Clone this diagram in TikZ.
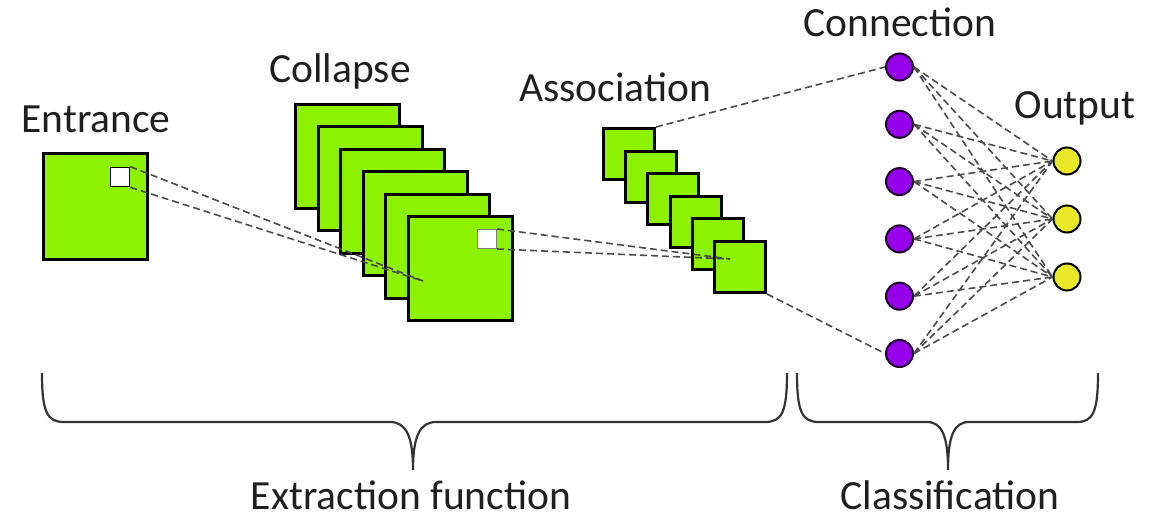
\documentclass[tikz,border=0pt]{standalone}
\usepackage{fontspec}
\setmainfont{Carlito}
\usetikzlibrary{positioning}

\definecolor{mapgreen}{RGB}{140,242,0}
\definecolor{neuron}{RGB}{150,0,235}
\definecolor{outyellow}{RGB}{232,232,40}
\definecolor{wiregray}{RGB}{75,75,75}

\begin{document}
\begin{tikzpicture}[x=1pt, y=-1pt,
    fmap/.style={rectangle, draw=black, line width=3pt, fill=mapgreen, minimum size=104pt, inner sep=0pt},
    smallmap/.style={fmap, minimum size=51pt},
    patch/.style={rectangle, draw=black, line width=1.6pt, fill=white, minimum size=19pt, inner sep=0pt},
    neuronnode/.style={circle, draw=black!80!neuron, line width=2pt, fill=neuron, minimum size=27pt, inner sep=0pt},
    outnode/.style={neuronnode, draw=black, fill=outyellow},
    lbl/.style={font=\fontsize{41.5}{48}\selectfont, text=black!88, anchor=base, inner sep=0pt},
    wire/.style={draw=wiregray, line width=1.6pt, dash pattern=on 7pt off 4pt},
    bracket/.style={draw=black!80, line width=2.2pt}
]
\useasboundingbox (0,0) rectangle (1168,519);

% Feature maps
\node[fmap, minimum height=106pt] (entr) at (95.5,206.5) {};
\node[patch] (win1) at (120,177) {};
\foreach \i in {1,...,6}
    \node[fmap] (coll\i) at ({347.5+22.6*(\i-1)}, {156.5+22.4*(\i-1)}) {};
\node[patch, draw=gray, line width=1pt] (win2) at (487,239) {};
\foreach \i in {1,...,6}
    \node[smallmap] (assoc\i) at ({629+22.2*(\i-1)}, {154+22.6*(\i-1)}) {};

% Neurons
\foreach \i in {1,...,6}
    \node[neuronnode] (conn\i) at (899.5,{67+57.3*(\i-1)}) {};
\foreach \j in {1,2,3}
    \node[outnode] (out\j) at (1067,{161+58*(\j-1)}) {};

% Labels
\node[lbl] (entrlbl) at (96,132) {Entrance};
\node[lbl] (colllbl) at (340,82) {Collapse};
\node[lbl] (assoclbl) at (615,102) {Association};
\node[lbl] (connlbl) at (900,37) {Connection};
\node[lbl] (outlbl) at (1075,118) {Output};
\node[lbl] (extrlbl) at (411,509) {Extraction function};
\node[lbl] (classlbl) at (950,509) {Classification};

% Dashed links
\coordinate (focus1) at (423,281);
\coordinate (focus2) at (730,259);
\draw[wire] (win1.north east) -- (focus1);
\draw[wire] (win1.south east) -- (focus1);
\draw[wire] (win2.north east) -- (focus2);
\draw[wire] (win2.south east) -- (focus2);
\draw[wire] (assoc1.north east) -- (conn1.west);
\draw[wire] (assoc6.south east) -- (conn6.west);
\foreach \i in {1,...,6}
    \foreach \j in {1,2,3}
        \draw[wire] (conn\i.east) -- (out\j.west);

% Braces
\draw[bracket] (42,373) .. controls (42,412) and (47,422) .. (64,422) -- (390,422)
    .. controls (406,422) and (413,436) .. (413,470)
    .. controls (413,436) and (420,422) .. (436,422) -- (765,422)
    .. controls (782,422) and (787,412) .. (787,373);
\draw[bracket] (797,373) .. controls (797,412) and (802,422) .. (819,422) -- (927,422)
    .. controls (942,422) and (948,436) .. (948,470)
    .. controls (948,436) and (954,422) .. (969,422) -- (1077,422)
    .. controls (1093,422) and (1098,412) .. (1098,373);

\end{tikzpicture}
\end{document}
